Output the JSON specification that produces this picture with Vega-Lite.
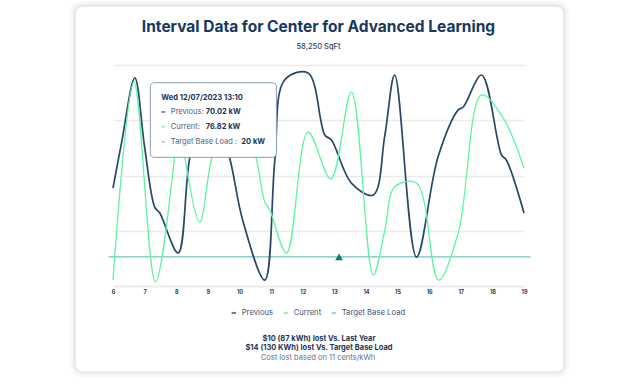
{
  "$schema": "https://vega.github.io/schema/vega-lite/v6.json",
  "width": 411,
  "height": 221,
  "autosize": "none",
  "padding": {"left": 113, "top": 65, "right": 116, "bottom": 98},
  "background": "white",
  "config": {"view": {"stroke": null}},
  "title": {
    "text": "Interval Data for Center for Advanced Learning",
    "subtitle": "58,250 SqFt",
    "font": "Inter", "fontSize": 15.5, "fontWeight": "bold", "color": "#17375e",
    "subtitleFont": "Inter", "subtitleFontSize": 7.5, "subtitleColor": "#2b4a6e", "subtitleFontWeight": 500,
    "subtitlePadding": 7, "offset": -49.5, "anchor": "middle", "frame": "group"
  },
  "encoding": {
    "x": {
      "field": "hour", "type": "quantitative",
      "scale": {"domain": [6, 19], "nice": false, "zero": false},
      "axis": {
        "values": [6,7,8,9,10,11,12,13,14,15,16,17,18,19],
        "labelFont": "Inter", "labelFontSize": 5.5, "labelFontWeight": "bold", "labelColor": "#1f3a5a",
        "labelFlush": false, "ticks": false, "domainColor": "#ebebeb", "domainWidth": 1.5, "labelPadding": 3, "grid": false,
        "title": ["$10 (87 kWh) lost Vs. Last Year", "$14 (130 KWh) lost Vs. Target Base Load"],
        "titleFont": "Inter", "titleFontSize": 7.5, "titleFontWeight": "bold", "titleColor": "#1b3553",
        "titleLineHeight": 9, "titleBaseline": "top", "titleY": 48
      }
    },
    "y": {
      "field": "kW", "type": "quantitative",
      "scale": {"domain": [0, 152], "nice": false},
      "axis": {"values": [0, 38, 76, 114, 152], "grid": true, "gridColor": "#ebebeb", "gridWidth": 1.5, "labels": false, "ticks": false, "domain": false, "title": null}
    }
  },
  "layer": [
    {
      "data": {"values": [{"hour": 4.735, "hour2": 20.329, "kW": 194.0, "kW2": -60.9}]},
      "mark": {"type": "rect", "fill": null, "stroke": "#000000", "strokeOpacity": 0.03, "strokeWidth": 6, "cornerRadius": 9, "clip": false},
      "encoding": {"x2": {"field": "hour2"}, "y2": {"field": "kW2"}}
    },
    {
      "data": {"values": [{"hour": 4.782, "hour2": 20.282, "kW": 192.9, "kW2": -59.5}]},
      "mark": {"type": "rect", "fill": null, "stroke": "#000000", "strokeOpacity": 0.05, "strokeWidth": 3, "cornerRadius": 7.5, "clip": false},
      "encoding": {"x2": {"field": "hour2"}, "y2": {"field": "kW2"}}
    },
    {
      "data": {"values": [{"hour": 5.86, "hour2": 19.21, "kW": 20, "series": "Target Base Load"}]},
      "mark": {"type": "rule", "strokeWidth": 1.2},
      "encoding": {
        "x2": {"field": "hour2"},
        "color": {
          "field": "series", "type": "nominal",
          "scale": {"domain": ["Previous", "Current", "Target Base Load"], "range": ["#27476b", "#5ef5a2", "#6fc6c0"]},
          "legend": {
            "orient": "none", "legendX": 117, "legendY": 244, "direction": "horizontal",
            "symbolType": "stroke", "symbolStrokeWidth": 2, "symbolSize": 20,
            "labelFont": "Inter", "labelFontSize": 7.7, "labelColor": "#3d5575", "labelOffset": 4, "columnPadding": 5,
            "title": "Cost lost based on 11 cents/kWh", "titleOrient": "bottom", "titleAnchor": "middle",
            "titleFont": "Inter", "titleFontSize": 7.5, "titleFontWeight": "normal", "titleColor": "#5d7290", "titlePadding": 37
          }
        }
      }
    },
    {
      "data": {"values": [
        {"hour": 6.00, "kW": 67.4, "series": "Previous"},
        {"hour": 6.27, "kW": 98.4, "series": "Previous"},
        {"hour": 6.69, "kW": 143.1, "series": "Previous"},
        {"hour": 7.00, "kW": 95.6, "series": "Previous"},
        {"hour": 7.32, "kW": 54.3, "series": "Previous"},
        {"hour": 7.48, "kW": 50.2, "series": "Previous"},
        {"hour": 8.06, "kW": 22.7, "series": "Previous"},
        {"hour": 8.43, "kW": 88.7, "series": "Previous"},
        {"hour": 9.00, "kW": 136.2, "series": "Previous"},
        {"hour": 9.69, "kW": 88.0, "series": "Previous"},
        {"hour": 10.10, "kW": 45.4, "series": "Previous"},
        {"hour": 10.80, "kW": 4.1, "series": "Previous"},
        {"hour": 11.12, "kW": 86.7, "series": "Previous"},
        {"hour": 11.43, "kW": 141.7, "series": "Previous"},
        {"hour": 12.17, "kW": 146.5, "series": "Previous"},
        {"hour": 12.70, "kW": 103.9, "series": "Previous"},
        {"hour": 12.91, "kW": 100.4, "series": "Previous"},
        {"hour": 13.54, "kW": 70.8, "series": "Previous"},
        {"hour": 14.23, "kW": 62.6, "series": "Previous"},
        {"hour": 14.60, "kW": 103.9, "series": "Previous"},
        {"hour": 14.91, "kW": 145.1, "series": "Previous"},
        {"hour": 15.60, "kW": 19.9, "series": "Previous"},
        {"hour": 16.28, "kW": 88.7, "series": "Previous"},
        {"hour": 16.92, "kW": 121.1, "series": "Previous"},
        {"hour": 17.08, "kW": 123.1, "series": "Previous"},
        {"hour": 17.66, "kW": 145.1, "series": "Previous"},
        {"hour": 18.29, "kW": 90.1, "series": "Previous"},
        {"hour": 18.44, "kW": 86.7, "series": "Previous"},
        {"hour": 19.00, "kW": 50.2, "series": "Previous"}
      ]},
      "mark": {"type": "line", "interpolate": "catmull-rom", "strokeWidth": 1.7},
      "encoding": {"color": {"field": "series", "type": "nominal"}}
    },
    {
      "data": {"values": [
        {"hour": 6.00, "kW": 4.1, "series": "Current"},
        {"hour": 6.66, "kW": 140.3, "series": "Current"},
        {"hour": 7.34, "kW": 2.8, "series": "Current"},
        {"hour": 7.95, "kW": 88.7, "series": "Current"},
        {"hour": 8.11, "kW": 124.5, "series": "Current"},
        {"hour": 8.27, "kW": 88.7, "series": "Current"},
        {"hour": 8.74, "kW": 44.0, "series": "Current"},
        {"hour": 9.13, "kW": 88.7, "series": "Current"},
        {"hour": 9.80, "kW": 133.4, "series": "Current"},
        {"hour": 10.52, "kW": 88.7, "series": "Current"},
        {"hour": 10.80, "kW": 57.8, "series": "Current"},
        {"hour": 10.96, "kW": 52.3, "series": "Current"},
        {"hour": 11.49, "kW": 22.7, "series": "Current"},
        {"hour": 12.17, "kW": 105.9, "series": "Current"},
        {"hour": 12.89, "kW": 73.6, "series": "Current"},
        {"hour": 13.54, "kW": 133.4, "series": "Current"},
        {"hour": 14.23, "kW": 7.6, "series": "Current"},
        {"hour": 14.60, "kW": 38.5, "series": "Current"},
        {"hour": 14.91, "kW": 68.1, "series": "Current"},
        {"hour": 15.60, "kW": 70.8, "series": "Current"},
        {"hour": 16.29, "kW": 4.1, "series": "Current"},
        {"hour": 16.92, "kW": 36.5, "series": "Current"},
        {"hour": 17.66, "kW": 131.4, "series": "Current"},
        {"hour": 18.34, "kW": 115.6, "series": "Current"},
        {"hour": 19.00, "kW": 81.2, "series": "Current"}
      ]},
      "mark": {"type": "line", "interpolate": "catmull-rom", "strokeWidth": 1.3},
      "encoding": {"color": {"field": "series", "type": "nominal"}}
    },
    {
      "data": {"values": [{"hour": 13.15, "kW": 20}]},
      "mark": {"type": "point", "shape": "triangle-up", "filled": true, "size": 60, "color": "#0d7a70", "opacity": 1}
    },
    {
      "data": {"values": [{"hour": 7.18, "hour2": 11.17, "kW": 139.8, "kW2": 88.5}]},
      "mark": {"type": "rect", "fill": "white", "stroke": "#8d9db1", "strokeWidth": 1, "cornerRadius": 4},
      "encoding": {"x2": {"field": "hour2"}, "y2": {"field": "kW2"}}
    },
    {
      "data": {"values": [
        {"hour": 7.59, "kW": 119.7, "series": "Previous"},
        {"hour": 7.59, "kW": 109.6, "series": "Current"},
        {"hour": 7.59, "kW": 99.2, "series": "Target Base Load"}
      ]},
      "mark": {"type": "tick", "orient": "horizontal", "size": 4, "thickness": 1.6},
      "encoding": {"color": {"field": "series", "type": "nominal"}}
    },
    {
      "data": {"values": [
        {"hour": 7.53, "kW": 129.3, "label": "Wed 12/07/2023 13:10"},
        {"hour": 8.93, "kW": 119.7, "label": "70.02 kW"},
        {"hour": 8.93, "kW": 109.6, "label": "76.82 kW"},
        {"hour": 10.06, "kW": 99.2, "label": "20 kW"}
      ]},
      "mark": {"type": "text", "align": "left", "baseline": "middle", "font": "Inter", "fontSize": 7.5, "fontWeight": "bold", "color": "#1b3553"},
      "encoding": {"text": {"field": "label"}}
    },
    {
      "data": {"values": [
        {"hour": 7.83, "kW": 119.7, "label": "Previous:"},
        {"hour": 7.83, "kW": 109.6, "label": "Current:"},
        {"hour": 7.83, "kW": 99.2, "label": "Target Base Load :"}
      ]},
      "mark": {"type": "text", "align": "left", "baseline": "middle", "font": "Inter", "fontSize": 7.5, "color": "#4b6280"},
      "encoding": {"text": {"field": "label"}}
    }
  ]
}
